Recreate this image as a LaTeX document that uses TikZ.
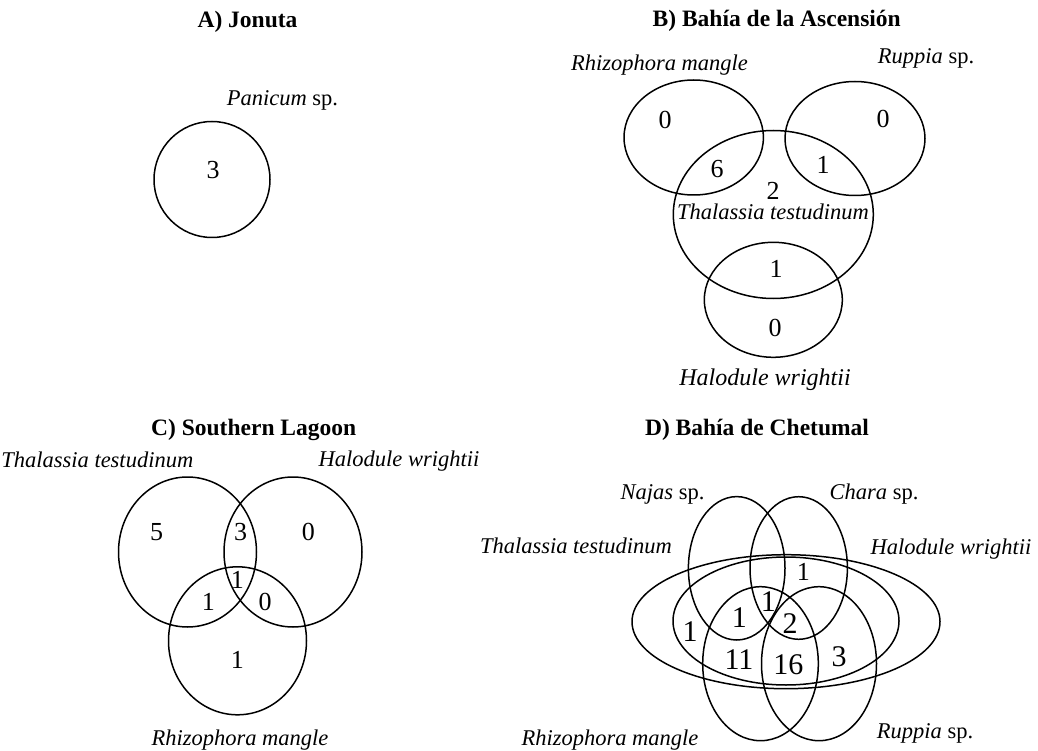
\documentclass[tikz,border=0pt]{standalone}
\usepackage{fontspec}
\setmainfont{Liberation Serif}
\begin{document}
\begin{tikzpicture}[x=1pt,y=-1pt,
  set/.style={line width=1.5pt},
  ttl/.style={anchor=base,inner sep=0pt,font=\fontsize{23.5}{26}\selectfont\bfseries},
  lbl/.style={anchor=base,inner sep=0pt,font=\fontsize{22.5}{25}\selectfont},
  lblb/.style={anchor=base,inner sep=0pt,font=\fontsize{24}{27}\selectfont},
  num/.style={anchor=base,inner sep=0pt,font=\fontsize{26}{29}\selectfont},
  numd/.style={anchor=base,inner sep=0pt,font=\fontsize{30}{33}\selectfont}]
\useasboundingbox (0,0) rectangle (1038,751);
% ---------- A ----------
\node[ttl] (tA) at (247.5,28) {A) Jonuta};
\draw[set] (212,179.5) circle (58);
\node[num] (a1) at (213,179) {3};
\node[lbl] (la1) at (282.5,106) {\textit{Panicum} sp.};
% ---------- B ----------
\node[ttl] (tB) at (776.7,27) {B) Bahía de la Ascensión};
\draw[set] (693.7,137.5) ellipse [x radius=69.7,y radius=57.5];
\draw[set] (855,138.5) ellipse [x radius=70,y radius=57];
\draw[set] (773.3,214.5) ellipse [x radius=100,y radius=84];
\draw[set] (773.3,299.8) ellipse [x radius=69,y radius=57.5];
\node[num] (b1) at (665,128.3) {0};
\node[num] (b2) at (883,127.3) {0};
\node[num] (b3) at (717,177.3) {6};
\node[num] (b4) at (823,174) {1};
\node[num] (b5) at (773,199.3) {2};
\node[num] (b6) at (776,277.7) {1};
\node[num] (b7) at (775,336) {0};
\node[lbl] (lb1) at (659.5,71) {\textit{Rhizophora mangle}};
\node[lbl] (lb2) at (926,63.3) {\textit{Ruppia} sp.};
\node[lbl] (lb3) at (773,220) {\textit{Thalassia testudinum}};
\node[lblb] (lb4) at (765,385) {\textit{Halodule wrightii}};
% ---------- C ----------
\node[ttl] (tC) at (253.7,435) {C) Southern Lagoon};
\draw[set] (187.5,552) ellipse [x radius=69,y radius=75];
\draw[set] (293,552) ellipse [x radius=69,y radius=75];
\draw[set] (237.5,640.8) ellipse [x radius=69,y radius=74];
\node[num] (c1) at (156.7,540.7) {5};
\node[num] (c2) at (240.7,540.7) {3};
\node[num] (c3) at (308.3,540.7) {0};
\node[num] (c4) at (237.3,588.3) {1};
\node[num] (c5) at (208.3,610) {1};
\node[num] (c6) at (265,610.7) {0};
\node[num] (c7) at (237.3,668.3) {1};
\node[lbl] (lc1) at (97.3,467.3) {\textit{Thalassia testudinum}};
\node[lbl] (lc2) at (399,466.7) {\textit{Halodule wrightii}};
\node[lbl] (lc3) at (240,745) {\textit{Rhizophora mangle}};
% ---------- D ----------
\node[ttl] (tD) at (757,435) {D) Bahía de Chetumal};
\draw[set] (786,621.7) ellipse [x radius=154,y radius=67];
\draw[set] (786,621) ellipse [x radius=113,y radius=64];
\draw[set] (736.7,568.3) ellipse [x radius=48.3,y radius=71.7];
\draw[set] (798.7,568) ellipse [x radius=48.7,y radius=71.3];
\draw[set] (760.5,663.7) ellipse [x radius=57.8,y radius=77];
\draw[set] (819,663.7) ellipse [x radius=57.5,y radius=77];
\node[num] (d1) at (803.3,580) {1};
\node[numd] (d2) at (768.3,611.7) {1};
\node[numd] (d3) at (739.3,627.3) {1};
\node[numd] (d4) at (790,633.3) {2};
\node[numd] (d5) at (690,641.7) {1};
\node[numd] (d6) at (739,669) {11};
\node[numd] (d7) at (788.3,674) {16};
\node[numd] (d8) at (839,666.7) {3};
\node[lbl] (ld1) at (662.5,499.3) {\textit{Najas} sp.};
\node[lbl] (ld2) at (874,499) {\textit{Chara} sp.};
\node[lbl] (ld3) at (576,553.3) {\textit{Thalassia testudinum}};
\node[lbl] (ld4) at (951,554) {\textit{Halodule wrightii}};
\node[lbl] (ld5) at (925,738.3) {\textit{Ruppia} sp.};
\node[lbl] (ld6) at (610,745) {\textit{Rhizophora mangle}};
\end{tikzpicture}
\end{document}
